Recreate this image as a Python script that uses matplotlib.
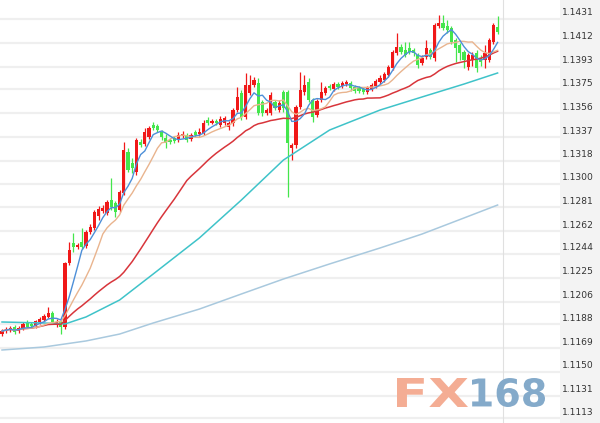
import numpy as np
import pandas as pd
import matplotlib
matplotlib.use('Agg')
import matplotlib.pyplot as plt
import matplotlib.transforms as mtransforms
from matplotlib.patches import Rectangle, PathPatch
from matplotlib.textpath import TextPath
from matplotlib.font_manager import FontProperties

# candles (EUR/USD), oldest first
opens = [1.11802, 1.11826, 1.11834, 1.11858, 1.11826, 1.11850, 1.11898, 1.11882, 1.11866, 1.11898,
         1.11914, 1.11938, 1.11970, 1.11874, 1.11898, 1.11858, 1.12368, 1.12527, 1.12495, 1.12535,
         1.12503, 1.12614, 1.12646, 1.12742, 1.12781, 1.12766, 1.12869, 1.12845, 1.12789, 1.12925,
         1.13251, 1.13164, 1.13092, 1.13331, 1.13315, 1.13370, 1.13466, 1.13458, 1.13410, 1.13363,
         1.13347, 1.13363, 1.13347, 1.13378, 1.13386, 1.13355, 1.13410, 1.13394, 1.13402, 1.13506,
         1.13482, 1.13498, 1.13466, 1.13482, 1.13450, 1.13482, 1.13585, 1.13721, 1.13530, 1.13721,
         1.13784, 1.13800, 1.13649, 1.13562, 1.13562, 1.13649, 1.13585, 1.13729, 1.13729, 1.13283,
         1.13307, 1.13609, 1.13729, 1.13808, 1.13665, 1.13546, 1.13665, 1.13721, 1.13776, 1.13753,
         1.13792, 1.13776, 1.13792, 1.13800, 1.13768, 1.13761, 1.13753, 1.13729, 1.13753, 1.13776,
         1.13808, 1.13824, 1.13864, 1.13920, 1.14039, 1.14087, 1.14063, 1.14079, 1.14063, 1.14023,
         1.13960, 1.14007, 1.14063, 1.13999, 1.14254, 1.14278, 1.14254, 1.14238, 1.14143, 1.14103,
         1.14047, 1.13928, 1.13983, 1.14039, 1.13999, 1.13983, 1.13983, 1.14127, 1.14246]
closes = [1.11826, 1.11842, 1.11850, 1.11818, 1.11850, 1.11882, 1.11858, 1.11866, 1.11906, 1.11922,
          1.11946, 1.11970, 1.11898, 1.11898, 1.11858, 1.12368, 1.12471, 1.12495, 1.12511, 1.12495,
          1.12614, 1.12654, 1.12773, 1.12797, 1.12805, 1.12853, 1.12813, 1.12773, 1.12933, 1.13267,
          1.13108, 1.13124, 1.13347, 1.13307, 1.13410, 1.13442, 1.13442, 1.13426, 1.13370, 1.13323,
          1.13331, 1.13339, 1.13386, 1.13394, 1.13347, 1.13386, 1.13386, 1.13410, 1.13482, 1.13482,
          1.13498, 1.13482, 1.13514, 1.13522, 1.13482, 1.13585, 1.13689, 1.13530, 1.13784, 1.13784,
          1.13824, 1.13562, 1.13562, 1.13585, 1.13705, 1.13601, 1.13641, 1.13601, 1.13323, 1.13307,
          1.13609, 1.13745, 1.13784, 1.13665, 1.13530, 1.13657, 1.13729, 1.13761, 1.13761, 1.13792,
          1.13768, 1.13800, 1.13808, 1.13761, 1.13737, 1.13737, 1.13729, 1.13761, 1.13784, 1.13816,
          1.13840, 1.13872, 1.13928, 1.14047, 1.14087, 1.14047, 1.14023, 1.14047, 1.14039, 1.13944,
          1.13999, 1.14079, 1.14007, 1.14262, 1.14278, 1.14238, 1.14222, 1.14127, 1.14079, 1.14039,
          1.13983, 1.14023, 1.14023, 1.13920, 1.13967, 1.14039, 1.14143, 1.14262, 1.14206]
highs = [1.11842, 1.11858, 1.11866, 1.11874, 1.11866, 1.11898, 1.11914, 1.11898, 1.11914, 1.11938,
         1.11962, 1.12017, 1.11985, 1.11922, 1.11914, 1.12375, 1.12535, 1.12606, 1.12527, 1.12646,
         1.12630, 1.12678, 1.12789, 1.12821, 1.12829, 1.12869, 1.13044, 1.12861, 1.12949, 1.13331,
         1.13283, 1.13203, 1.13363, 1.13355, 1.13442, 1.13458, 1.13490, 1.13474, 1.13426, 1.13394,
         1.13363, 1.13378, 1.13410, 1.13418, 1.13402, 1.13402, 1.13426, 1.13442, 1.13506, 1.13530,
         1.13514, 1.13514, 1.13538, 1.13538, 1.13498, 1.13601, 1.13768, 1.13745, 1.13880, 1.13864,
         1.13848, 1.13840, 1.13665, 1.13601, 1.13729, 1.13665, 1.13665, 1.13745, 1.13745, 1.13323,
         1.13625, 1.13888, 1.13864, 1.13840, 1.13681, 1.13673, 1.13808, 1.13776, 1.13792, 1.13808,
         1.13808, 1.13816, 1.13824, 1.13816, 1.13784, 1.13776, 1.13768, 1.13776, 1.13800, 1.13832,
         1.13864, 1.13888, 1.13944, 1.14063, 1.14198, 1.14111, 1.14127, 1.14127, 1.14079, 1.14039,
         1.14023, 1.14143, 1.14079, 1.14278, 1.14342, 1.14342, 1.14302, 1.14254, 1.14159, 1.14119,
         1.14063, 1.14039, 1.14047, 1.14063, 1.14023, 1.14103, 1.14159, 1.14278, 1.14334]
lows = [1.11786, 1.11810, 1.11818, 1.11802, 1.11810, 1.11834, 1.11850, 1.11850, 1.11850, 1.11882,
        1.11906, 1.11930, 1.11882, 1.11858, 1.11802, 1.11842, 1.12352, 1.12455, 1.12479, 1.12479,
        1.12487, 1.12598, 1.12630, 1.12710, 1.12766, 1.12750, 1.12789, 1.12734, 1.12773, 1.12909,
        1.13092, 1.13084, 1.13068, 1.13291, 1.13299, 1.13355, 1.13426, 1.13410, 1.13347, 1.13283,
        1.13315, 1.13323, 1.13331, 1.13363, 1.13331, 1.13339, 1.13370, 1.13378, 1.13386, 1.13466,
        1.13474, 1.13466, 1.13450, 1.13466, 1.13426, 1.13458, 1.13569, 1.13506, 1.13514, 1.13705,
        1.13768, 1.13546, 1.13538, 1.13546, 1.13546, 1.13585, 1.13569, 1.13569, 1.12893, 1.13187,
        1.13283, 1.13593, 1.13705, 1.13649, 1.13490, 1.13530, 1.13649, 1.13705, 1.13745, 1.13737,
        1.13753, 1.13761, 1.13776, 1.13737, 1.13721, 1.13721, 1.13713, 1.13713, 1.13737, 1.13761,
        1.13792, 1.13808, 1.13848, 1.13904, 1.14023, 1.14031, 1.14007, 1.14031, 1.14015, 1.13920,
        1.13944, 1.13991, 1.13991, 1.13975, 1.14238, 1.14222, 1.14198, 1.14111, 1.13967, 1.13983,
        1.13920, 1.13904, 1.13936, 1.13888, 1.13936, 1.13920, 1.13967, 1.14111, 1.14190]

# slow averages (candle index, price)
ma60_idx = [0, 10, 15, 20, 28, 36, 47, 57, 67, 78, 90, 100, 110, 118]
ma60_vals = [1.11898, 1.11890, 1.11882, 1.11938, 1.12073, 1.12280, 1.12567, 1.12869, 1.13187,
             1.13426, 1.13585, 1.13689, 1.13792, 1.13880]
ma_long_idx = [0, 10, 15, 20, 28, 36, 47, 57, 67, 78, 90, 100, 110, 118]
ma_long_vals = [1.11675, 1.11699, 1.11723, 1.11747, 1.11802, 1.11890, 1.12001, 1.12121, 1.12240,
                1.12360, 1.12487, 1.12598, 1.12726, 1.12829]

tick_vals = [1.1431, 1.1412, 1.1393, 1.1375, 1.1356, 1.1337, 1.1318, 1.1300, 1.1281,
             1.1262, 1.1244, 1.1225, 1.1206, 1.1188, 1.1169, 1.1150, 1.1131, 1.1113]
tick_labels = ['%.4f' % v for v in tick_vals]

df = pd.DataFrame({'open': opens, 'high': highs, 'low': lows, 'close': closes})
df['ma5'] = df['close'].rolling(5, min_periods=1).mean()
df['ma10'] = df['close'].rolling(10, min_periods=1).mean()
df['ma30'] = df['close'].rolling(30, min_periods=1).mean()
x = np.arange(len(df))

fig = plt.figure(figsize=(6, 4.23), dpi=100)
fig.add_artist(Rectangle((560/600, 0), 40/600, 1, transform=fig.transFigure,
                         color='#f3f3f3', zorder=-1))
ax = fig.add_axes([0, 0, 560/600, 1])
ax.set_xlim(-0.48, 132.86)
ax.set_ylim(1.11094, 1.14461)
ax.set_yticks(tick_vals)
ax.set_xticks([])
ax.tick_params(axis='y', length=0, labelleft=False)
ax.grid(axis='y', color='#efefef', lw=1.6)
ax.set_axisbelow(True)
for s in ax.spines.values():
    s.set_visible(False)
ax.axvline(len(df) + 0.3, color='#e0e0e0', lw=0.8)

up = df['close'] >= df['open']
col = np.where(up, '#f01818', '#44e64c')
body_lo = np.minimum(df['open'], df['close'])
body_h = np.maximum(np.abs(df['close'] - df['open']), 0.00008)
ax.vlines(x, df['low'], df['high'], colors=col, lw=0.9, zorder=2)
ax.bar(x, body_h, bottom=body_lo, width=0.8, color=col, zorder=2)

ax.plot(ma_long_idx, ma_long_vals, color='#a9c9de', lw=1.1, zorder=3)
ax.plot(ma60_idx, ma60_vals, color='#3fc3c9', lw=1.1, zorder=3)
ax.plot(x, df['ma30'], color='#d8353b', lw=1.1, zorder=3)
ax.plot(x, df['ma10'], color='#e9b48e', lw=1.0, zorder=3)
ax.plot(x, df['ma5'], color='#4d8fd8', lw=1.0, zorder=3)

trans = mtransforms.blended_transform_factory(ax.transAxes, ax.transData)
trans = mtransforms.offset_copy(trans, fig=fig, x=1.5, y=6, units='dots')
for v, lab in zip(tick_vals, tick_labels):
    ax.text(1.0, v, lab, transform=trans, ha='left', va='center',
            fontsize=6.6, color='#333333', clip_on=False)


# watermark, stretched wide like the logo
def stamp(txt, x0, x1, y0, h, color):
    tp = TextPath((0, 0), txt, size=40, prop=FontProperties(family='DejaVu Sans', weight='bold'))
    bb = tp.get_extents()
    tr = (mtransforms.Affine2D().translate(-bb.x0, -bb.y0)
          .scale((x1 - x0) / bb.width, h / bb.height).translate(x0, y0))
    fig.add_artist(PathPatch(tr.transform_path(tp), facecolor=color, lw=0,
                             transform=mtransforms.IdentityTransform(), zorder=5))


stamp('FX', 397, 468, 16, 29, '#f4ad94')
stamp('168', 472, 545, 16, 29, '#84aaca')

fig.savefig('out.png', dpi=100)
